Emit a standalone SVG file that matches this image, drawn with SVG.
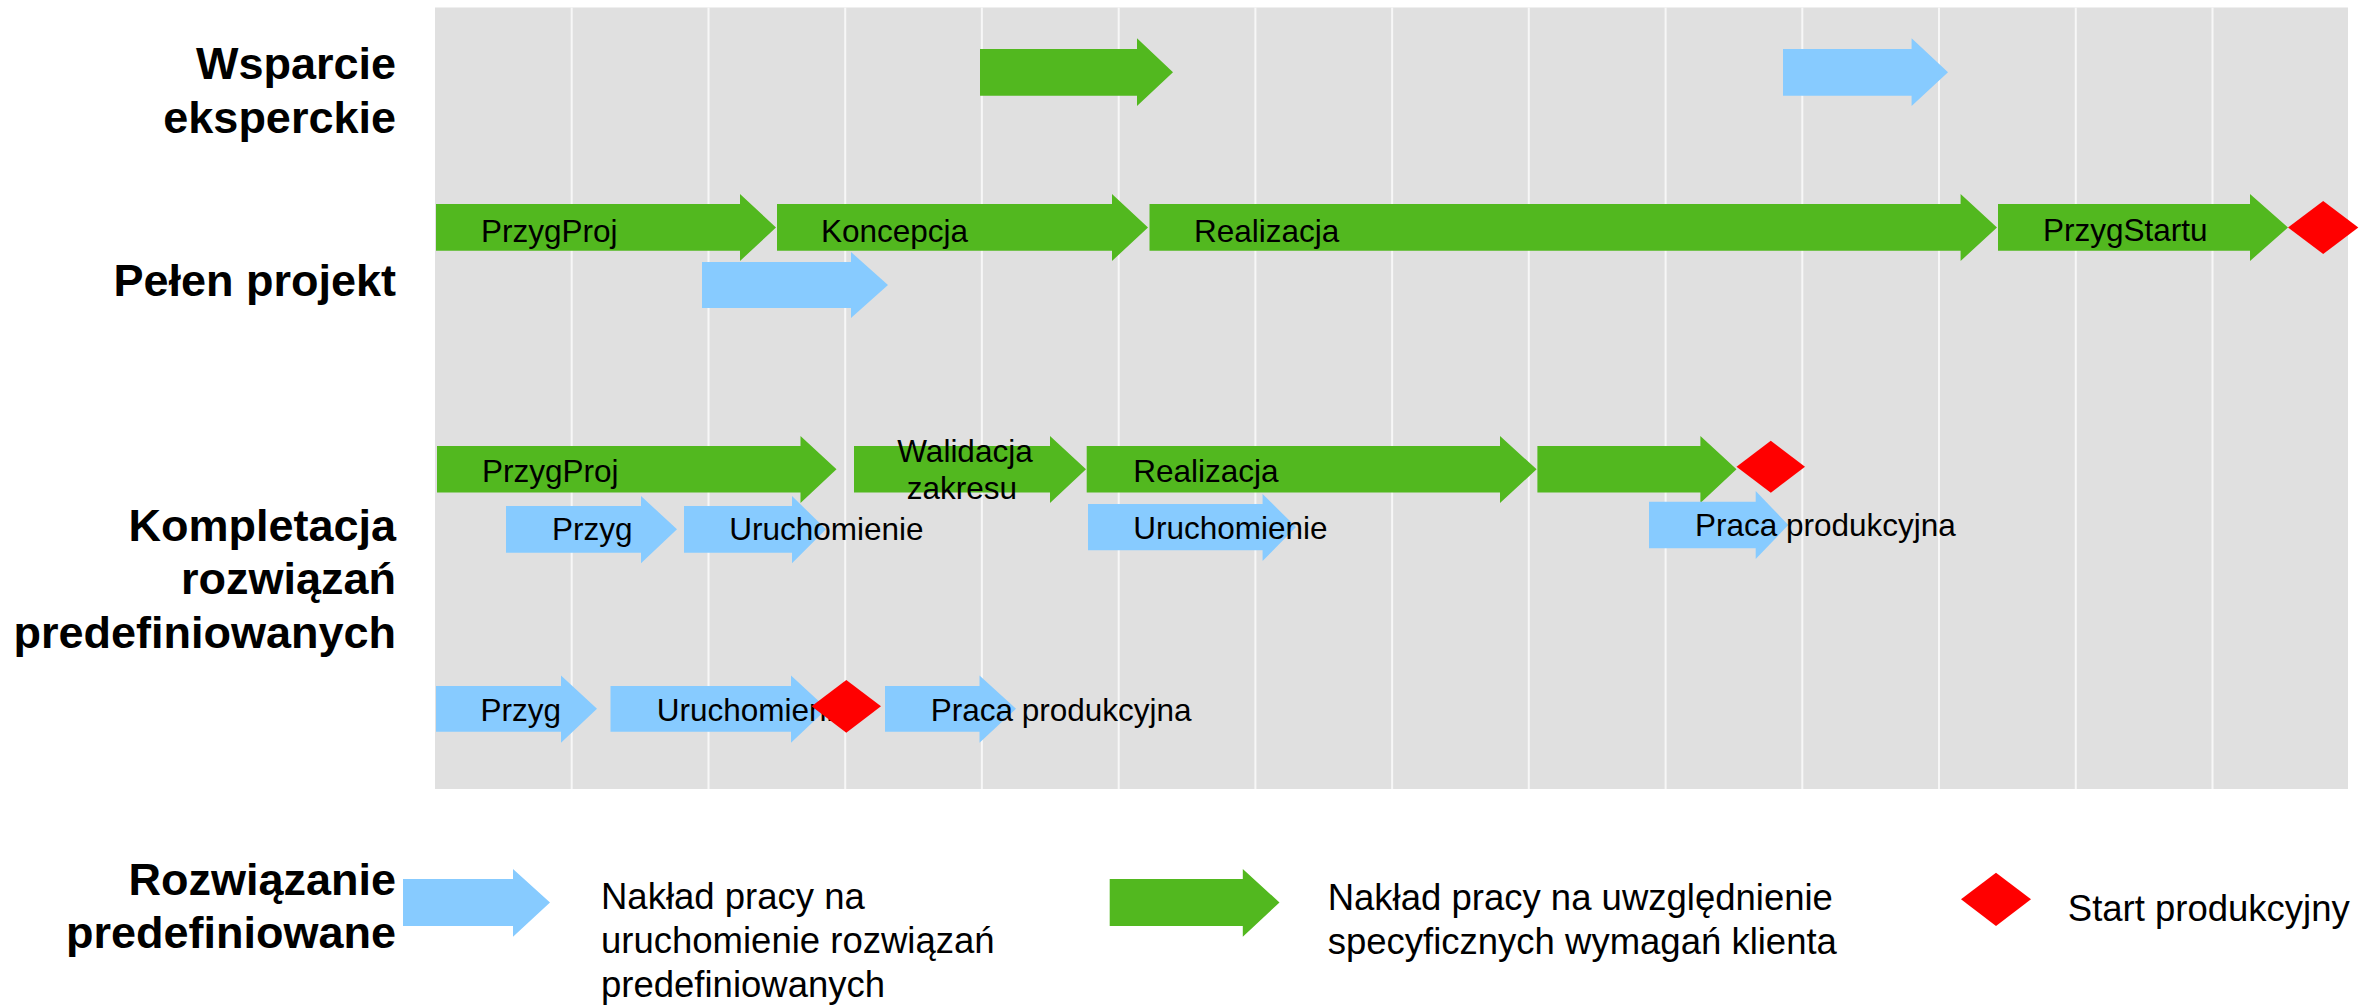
<svg xmlns="http://www.w3.org/2000/svg" width="2380" height="1005" viewBox="0 0 2380 1005">
<style>
.g{fill:#52B81F}
.b{fill:#87CBFF}
.r{fill:#FF0000}
.grid{stroke:#F7F7F7;stroke-width:2}
.lbl{font-family:"Liberation Sans",Arial,sans-serif;font-weight:bold;font-size:45px;text-anchor:end;fill:#000}
.t{font-family:"Liberation Sans",Arial,sans-serif;font-size:31.5px;fill:#000}
.lg{font-family:"Liberation Sans",Arial,sans-serif;font-size:36.5px;fill:#000}
</style>
<rect width="2380" height="1005" fill="#FFFFFF"/>
<g id="chart-background">
<rect x="435" y="7.5" width="1913" height="781.5" fill="#E0E0E0"/>
<g class="grid">
<line x1="571.7" y1="7.5" x2="571.7" y2="789"/>
<line x1="708.5" y1="7.5" x2="708.5" y2="789"/>
<line x1="845.2" y1="7.5" x2="845.2" y2="789"/>
<line x1="981.9" y1="7.5" x2="981.9" y2="789"/>
<line x1="1118.7" y1="7.5" x2="1118.7" y2="789"/>
<line x1="1255.4" y1="7.5" x2="1255.4" y2="789"/>
<line x1="1392.1" y1="7.5" x2="1392.1" y2="789"/>
<line x1="1528.8" y1="7.5" x2="1528.8" y2="789"/>
<line x1="1665.6" y1="7.5" x2="1665.6" y2="789"/>
<line x1="1802.3" y1="7.5" x2="1802.3" y2="789"/>
<line x1="1939" y1="7.5" x2="1939" y2="789"/>
<line x1="2075.8" y1="7.5" x2="2075.8" y2="789"/>
<line x1="2212.5" y1="7.5" x2="2212.5" y2="789"/>
</g>
</g>

<g id="row-labels">
<text class="lbl" x="396" y="79.3">Wsparcie</text>
<text class="lbl" x="396" y="132.7">eksperckie</text>
<text class="lbl" x="396" y="296">Pełen projekt</text>
<text class="lbl" x="396" y="540.5">Kompletacja</text>
<text class="lbl" x="396" y="594">rozwiązań</text>
<text class="lbl" x="396" y="648">predefiniowanych</text>
<text class="lbl" x="396" y="895">Rozwiązanie</text>
<text class="lbl" x="396" y="948.3">predefiniowane</text>
</g>

<!-- Wsparcie eksperckie -->
<g id="we-green"><polygon class="g" points="980,49 1137,49 1137,38.3 1173,72.2 1137,106 1137,95.7 980,95.7"/></g>
<g id="we-blue"><polygon class="b" points="1783,49 1911.6,49 1911.6,38.3 1948,72.2 1911.6,106 1911.6,95.7 1783,95.7"/></g>

<!-- Pelen projekt -->
<g id="pp-przygproj"><polygon class="g" points="436,204 740,204 740,194 776,227.5 740,261 740,250.7 436,250.7"/><text class="t" x="481" y="241.5">PrzygProj</text></g>
<g id="pp-koncepcja"><polygon class="g" points="777,204 1112,204 1112,194 1148,227.5 1112,261 1112,250.7 777,250.7"/><text class="t" x="821" y="241.5">Koncepcja</text></g>
<g id="pp-realizacja"><polygon class="g" points="1149.5,204 1960.6,204 1960.6,194 1997,227.5 1960.6,261 1960.6,250.7 1149.5,250.7"/><text class="t" x="1194" y="241.5">Realizacja</text></g>
<g id="pp-przygstartu"><polygon class="g" points="1998,204 2250,204 2250,194 2288,227.5 2250,261 2250,250.7 1998,250.7"/><text class="t" x="2043" y="241">PrzygStartu</text></g>
<g id="pp-start"><polygon class="r" points="2288,227.5 2323.2,201 2358.3,227.5 2323.2,254"/></g>
<g id="pp-blue"><polygon class="b" points="702,262 851,262 851,252 888,285 851,318 851,308 702,308"/></g>

<!-- Kompletacja row 1 -->
<g id="k1-przygproj"><polygon class="g" points="437,446 800.5,446 800.5,436 836.5,469.3 800.5,503 800.5,492.5 437,492.5"/><text class="t" x="482" y="481.7">PrzygProj</text></g>
<g id="k1-walidacja"><polygon class="g" points="854,446 1050,446 1050,436 1086,469.3 1050,503 1050,492.5 854,492.5"/><text class="t" x="965" y="462.3" text-anchor="middle">Walidacja</text><text class="t" x="962" y="499" text-anchor="middle">zakresu</text></g>
<g id="k1-realizacja"><polygon class="g" points="1086.7,446 1500,446 1500,436 1536.6,469.3 1500,503 1500,492.5 1086.7,492.5"/><text class="t" x="1133.3" y="481.7">Realizacja</text></g>
<g id="k1-green4"><polygon class="g" points="1537.4,446 1700.4,446 1700.4,436 1736.5,469.3 1700.4,503 1700.4,492.5 1537.4,492.5"/></g>
<g id="k1-start"><polygon class="r" points="1736.5,466.7 1770.8,440.7 1805,466.7 1770.8,492.7"/></g>

<!-- Kompletacja row 2 -->
<g id="k2-przyg"><polygon class="b" points="506,506 641,506 641,496 677,529.3 641,563.3 641,552.7 506,552.7"/><text class="t" x="552" y="540">Przyg</text></g>
<g id="k2-uruchomienie"><polygon class="b" points="684,506 792,506 792,496 826,529.3 792,563.3 792,552.7 684,552.7"/><text class="t" x="729.3" y="540">Uruchomienie</text></g>
<g id="k2-uruchomienie2"><polygon class="b" points="1088,504 1262.6,504 1262.6,494 1296,527 1262.6,561 1262.6,550.3 1088,550.3"/><text class="t" x="1133.3" y="539.3">Uruchomienie</text></g>
<g id="k2-praca"><polygon class="b" points="1649,501.7 1755.7,501.7 1755.7,491 1788.3,525 1755.7,559 1755.7,548.3 1649,548.3"/><text class="t" x="1695" y="536">Praca produkcyjna</text></g>

<!-- Kompletacja row 3 -->
<g id="k3-przyg"><polygon class="b" points="436,686 561,686 561,675.5 597,708.8 561,742.7 561,731.7 436,731.7"/><text class="t" x="480.6" y="720.7">Przyg</text></g>
<g id="k3-uruchomienie"><polygon class="b" points="610.5,686 791,686 791,675.5 827,708.8 791,742.7 791,731.7 610.5,731.7"/><text class="t" x="656.7" y="721">Uruchomienie</text></g>
<g id="k3-start"><polygon class="r" points="811.6,706.3 846.3,680 881,706.3 846.3,732.7"/></g>
<g id="k3-praca"><polygon class="b" points="885,686 979.5,686 979.5,675.5 1016,708.8 979.5,742.7 979.5,731.7 885,731.7"/><text class="t" x="930.7" y="721">Praca produkcyjna</text></g>

<!-- Legend -->
<g id="legend-blue"><polygon class="b" points="403,879 513,879 513,869 550,902.5 513,936.7 513,926 403,926"/>
<text class="lg" x="601" y="909.3">Nakład pracy na</text>
<text class="lg" x="601" y="953">uruchomienie rozwiązań</text>
<text class="lg" x="601" y="996.7">predefiniowanych</text></g>
<g id="legend-green"><polygon class="g" points="1109.7,879 1242.8,879 1242.8,869 1279.5,902.5 1242.8,936.7 1242.8,926 1109.7,926"/>
<text class="lg" x="1327.7" y="910">Nakład pracy na uwzględnienie</text>
<text class="lg" x="1327.7" y="954">specyficznych wymagań klienta</text></g>
<g id="legend-red"><polygon class="r" points="1961,899.3 1996,872.7 2031,899.3 1996,926"/>
<text class="lg" x="2067.8" y="920.7">Start produkcyjny</text></g>
</svg>
